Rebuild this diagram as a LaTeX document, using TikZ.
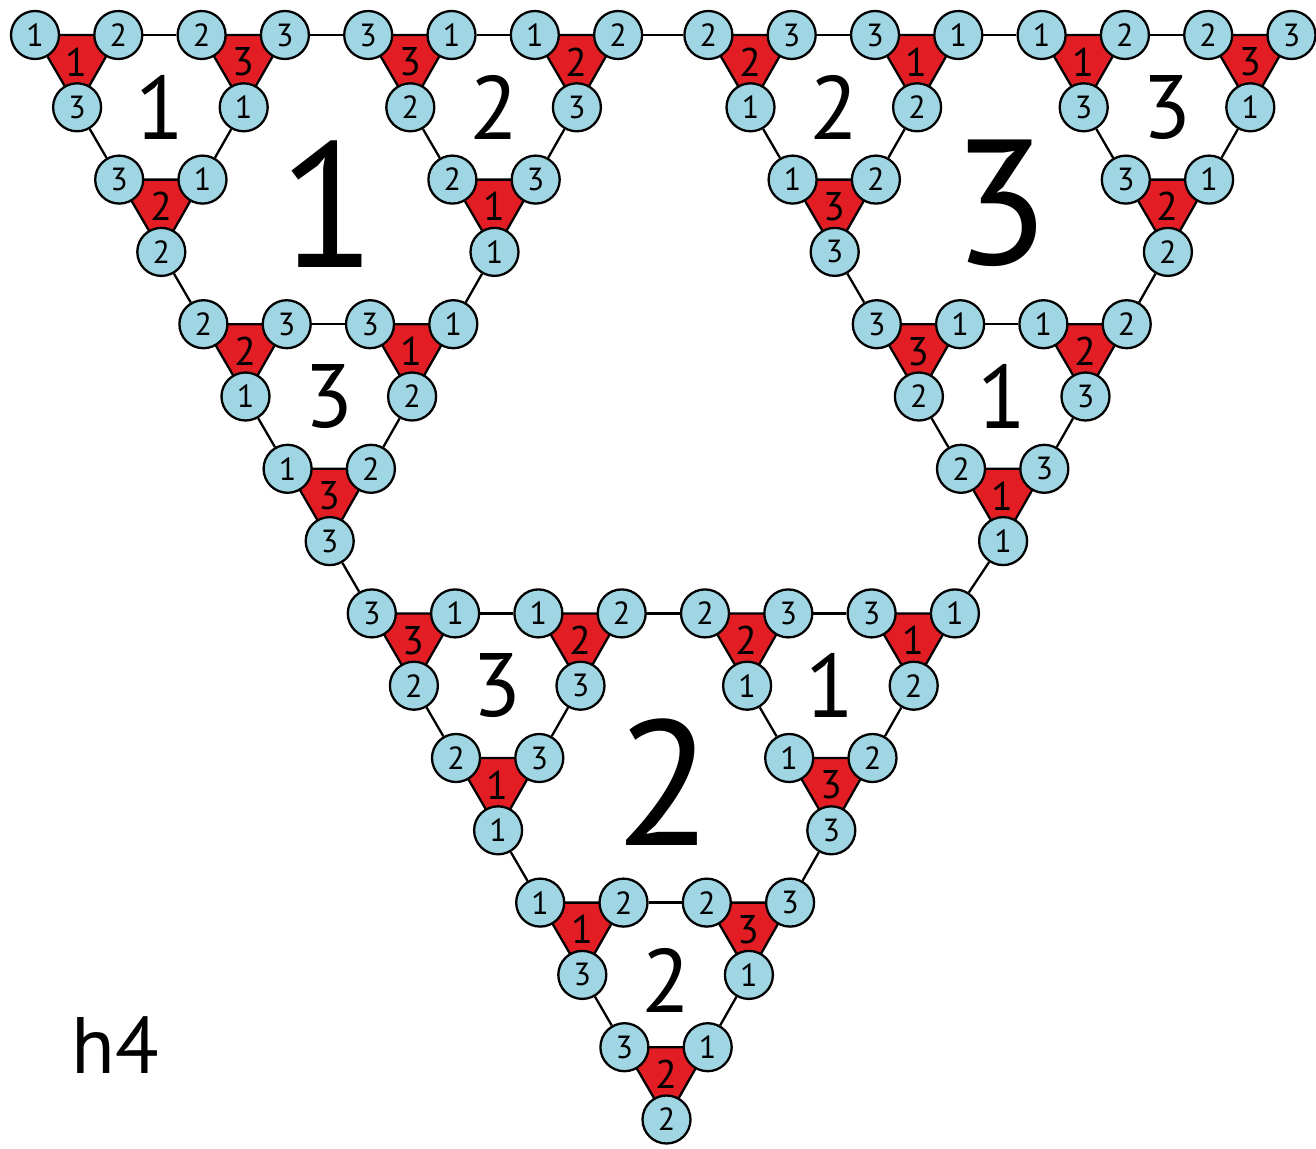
\documentclass[tikz,border=0pt]{standalone}
\usepackage{fontspec}
\setmainfont{PT Sans}
\definecolor{cblue}{RGB}{160,214,227}
\definecolor{cred}{RGB}{226,30,36}
\pgfdeclarelayer{edges}
\pgfsetlayers{edges,main}
\tikzset{
 vert/.style={circle, draw=black, line width=2.3pt, fill=cblue, minimum size=48pt, inner sep=0pt, font=\fontsize{32}{32}\selectfont},
 redtri/.style={fill=cred, draw=black, line width=2.3pt, line join=round},
 redlab/.style={inner sep=0pt, font=\fontsize{40}{40}\selectfont},
 grplab/.style={inner sep=0pt, font=\fontsize{90}{90}\selectfont},
 biglab/.style={inner sep=0pt, font=\fontsize{178}{178}\selectfont},
 link/.style={line width=2.3pt, draw=black},
}
\begin{document}
\begin{tikzpicture}[x=1pt,y=-1pt]
\useasboundingbox (0,0) rectangle (1316,1148);
% red triangles with their three vertices
\foreach \r/\j/\t/\a/\b/\c in {
 0/0/1/1/2/3, 0/2/3/2/3/1, 2/0/2/3/1/2,
 0/4/3/3/1/2, 0/6/2/1/2/3, 2/4/1/2/3/1,
 4/0/2/2/3/1, 4/2/1/3/1/2, 6/0/3/1/2/3,
 0/8/2/2/3/1, 0/10/1/3/1/2, 2/8/3/1/2/3,
 0/12/1/1/2/3, 0/14/3/2/3/1, 2/12/2/3/1/2,
 4/8/3/3/1/2, 4/10/2/1/2/3, 6/8/1/2/3/1,
 8/0/3/3/1/2, 8/2/2/1/2/3, 10/0/1/2/3/1,
 8/4/2/2/3/1, 8/6/1/3/1/2, 10/4/3/1/2/3,
 12/0/1/1/2/3, 12/2/3/2/3/1, 14/0/2/3/1/2}{
  \pgfmathsetmacro\xa{35+83.3*\j+42.1*\r+7*(\j>7)}
  \pgfmathsetmacro\ya{35+72.3*\r}
  \pgfmathsetmacro\xb{\xa+83.3}
  \pgfmathsetmacro\xc{\xa+42.1}
  \pgfmathsetmacro\yc{\ya+72.3}
  \pgfmathsetmacro\xm{(\xa+\xb+\xc)/3}
  \pgfmathsetmacro\ym{(2*\ya+\yc)/3+3}
  \pgfmathtruncatemacro\jb{\j+1}
  \pgfmathtruncatemacro\rc{\r+1}
  \filldraw[redtri] (\xa,\ya) -- (\xb,\ya) -- (\xc,\yc) -- cycle;
  \node[redlab] (t-\r-\j) at (\xm,\ym) {\t};
  \node[vert] (v-\r-\j) at (\xa,\ya) {\a};
  \node[vert] (v-\r-\jb) at (\xb,\ya) {\b};
  \node[vert] (v-\rc-\j) at (\xc,\yc) {\c};
}
% group labels
\foreach \R/\J/\t in {0/0/1, 0/4/2, 4/0/3, 0/8/2, 0/12/3, 4/8/1, 8/0/3, 8/4/1, 12/0/2}{
  \pgfmathsetmacro\gx{35+83.3*(\J+1)+42.1*(\R+1)+7*(\J>7)}
  \pgfmathsetmacro\gy{35+72.3*(\R+1)+(\R>10)*6}
  \node[grplab] (g-\R-\J) at (\gx,\gy) {\t};
}
\foreach \R/\J/\t in {0/0/1, 0/8/3, 8/0/2}{
  \pgfmathsetmacro\gx{35+83.3*(\J+7/3)+42.1*(\R+7/3)+7*(\J>7)}
  \pgfmathsetmacro\gy{35+72.3*(\R+7/3)}
  \node[biglab] (b-\R-\J) at (\gx,\gy) {\t};
}
\node[inner sep=0pt, font=\fontsize{80}{80}\selectfont] (name) at (115,1045) {h4};
% connecting edges
\begin{pgfonlayer}{edges}
\foreach \R/\J in {0/0,0/4,4/0,0/8,0/12,4/8,8/0,8/4,12/0}{
  \pgfmathtruncatemacro\Ja{\J+1}\pgfmathtruncatemacro\Jb{\J+2}
  \pgfmathtruncatemacro\Ra{\R+1}\pgfmathtruncatemacro\Rb{\R+2}
  \draw[link] (v-\R-\Ja) -- (v-\R-\Jb);
  \draw[link] (v-\Ra-\J) -- (v-\Rb-\J);
  \draw[link] (v-\Ra-\Jb) -- (v-\Rb-\Ja);
}
\foreach \R/\J in {0/0,0/8,8/0}{
  \pgfmathtruncatemacro\Jc{\J+3}\pgfmathtruncatemacro\Jd{\J+4}
  \pgfmathtruncatemacro\Rc{\R+3}\pgfmathtruncatemacro\Rd{\R+4}
  \draw[link] (v-\R-\Jc) -- (v-\R-\Jd);
  \draw[link] (v-\Rc-\J) -- (v-\Rd-\J);
  \draw[link] (v-\Rc-\Jd) -- (v-\Rd-\Jc);
}
\draw[link] (v-0-7) -- (v-0-8);
\draw[link] (v-7-0) -- (v-8-0);
\draw[link] (v-7-8) -- (v-8-7);
\end{pgfonlayer}
\end{tikzpicture}
\end{document}
